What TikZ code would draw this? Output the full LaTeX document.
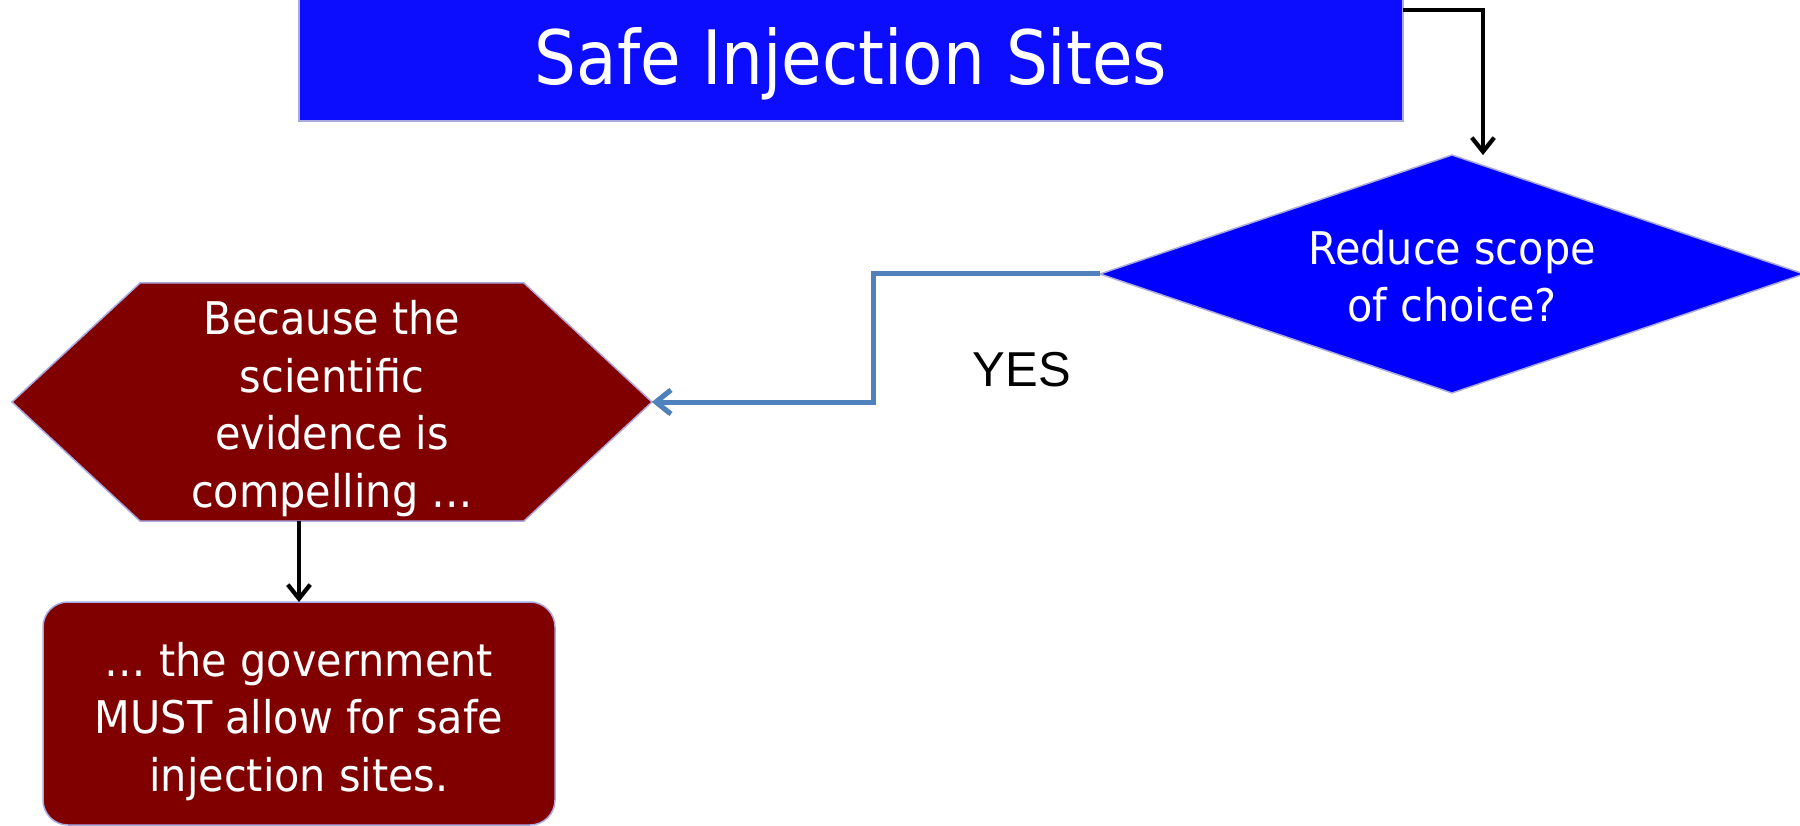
\documentclass[tikz,border=0pt]{standalone}
\usepackage{fontspec}
\setmainfont{DejaVu Sans}[FakeStretch=0.88]
\newfontfamily\bodyfont{DejaVu Sans}[FakeStretch=0.92]
\newfontfamily\yesfont{Liberation Sans}
\usetikzlibrary{arrows.meta,calc}
\definecolor{titleblue}{RGB}{12,12,255}
\definecolor{decblue}{RGB}{0,0,255}
\definecolor{darkred}{RGB}{128,0,0}
\definecolor{edgeline}{RGB}{170,170,225}
\definecolor{connblue}{RGB}{79,129,189}
\definecolor{shadowgray}{RGB}{205,205,205}
\definecolor{connshadowgray}{RGB}{160,160,160}
\begin{document}
\begin{tikzpicture}[x=1pt,y=-1pt,
  holder/.style={inner sep=0pt, outer sep=0pt},
  shapeedge/.style={draw=edgeline, line width=1.5pt},
  myshadow/.style={fill=shadowgray},
  bodytext/.style={text=white, align=center, font=\bodyfont\fontsize{45}{57.5}\selectfont, inner sep=0pt},
  blackconn/.style={draw=black, line width=4pt, -{Straight Barb[length=14pt,width=22pt]}},
  blueconn/.style={draw=connblue, line width=5pt, -{Straight Barb[length=15pt,width=24pt]}},
  conshadow/.style={draw=connshadowgray, line width=4.5pt, -{Straight Barb[length=14pt,width=23pt]}}
]
\useasboundingbox (0,0) rectangle (1800,826);

% invisible holders giving geometry
\node[holder, minimum width=1104pt, minimum height=126pt] (title) at (851,58) {};
\node[holder, minimum width=704pt, minimum height=238pt] (dia) at (1452,274) {};
\node[holder, minimum width=640pt, minimum height=238pt] (hex) at (332,402) {};
\node[holder, minimum width=512pt, minimum height=223pt] (must) at (299,713.5) {};

% shadows
\begin{scope}[xshift=2pt, yshift=-6pt]
  \fill[myshadow] (title.north west) rectangle (title.south east);
  \fill[myshadow] (dia.west) -- (dia.north) -- (dia.east) -- (dia.south) -- cycle;
  \fill[myshadow] (hex.west) -- ([xshift=128pt]hex.north west) -- ([xshift=-128pt]hex.north east)
     -- (hex.east) -- ([xshift=-128pt]hex.south east) -- ([xshift=128pt]hex.south west) -- cycle;
  \fill[myshadow, rounded corners=25pt] (must.north west) rectangle (must.south east);
\end{scope}

% shapes
\fill[titleblue, shapeedge] (title.north west) rectangle (title.south east);
\fill[decblue, shapeedge] (dia.west) -- (dia.north) -- (dia.east) -- (dia.south) -- cycle;
\fill[darkred, shapeedge] (hex.west) -- ([xshift=128pt]hex.north west) -- ([xshift=-128pt]hex.north east)
   -- (hex.east) -- ([xshift=-128pt]hex.south east) -- ([xshift=128pt]hex.south west) -- cycle;
\fill[darkred, shapeedge, rounded corners=25pt] (must.north west) rectangle (must.south east);

% texts (base anchor = baseline of the last line)
\node[text=white, inner sep=0pt, anchor=base, font=\fontsize{75}{90}\selectfont] (titletext) at (851,85) {Safe Injection Sites};
\node[bodytext, anchor=base] (diatext) at (1452,322) {Reduce scope\\of choice?};
\node[bodytext, anchor=base] (hextext) at (332,507) {Because the\\scientific\\evidence is\\compelling \dots};
\node[bodytext, anchor=base] (musttext) at (299,791) {\dots\ the government\\MUST allow for safe\\injection sites.};
\node[inner sep=0pt, anchor=base, font=\yesfont\fontsize{49}{58}\selectfont] (yes) at (1022,387) {YES};

% connector shadows
\begin{scope}[xshift=2pt, yshift=-3pt]
  \draw[conshadow] ($(title.north east)+(0,15)$) -| ($(dia.north)+(31,0)$);
  \draw[conshadow] (dia.west) -- ++(-227,0) |- (hex.east);
  \draw[conshadow] (must.north |- hex.south) -- (must.north);
\end{scope}

% connectors
\draw[blackconn] ($(title.north east)+(0,15)$) -| ($(dia.north)+(31,0)$);
\draw[blueconn] (dia.west) -- ++(-227,0) |- (hex.east);
\draw[blackconn] (must.north |- hex.south) -- (must.north);
\end{tikzpicture}
\end{document}
